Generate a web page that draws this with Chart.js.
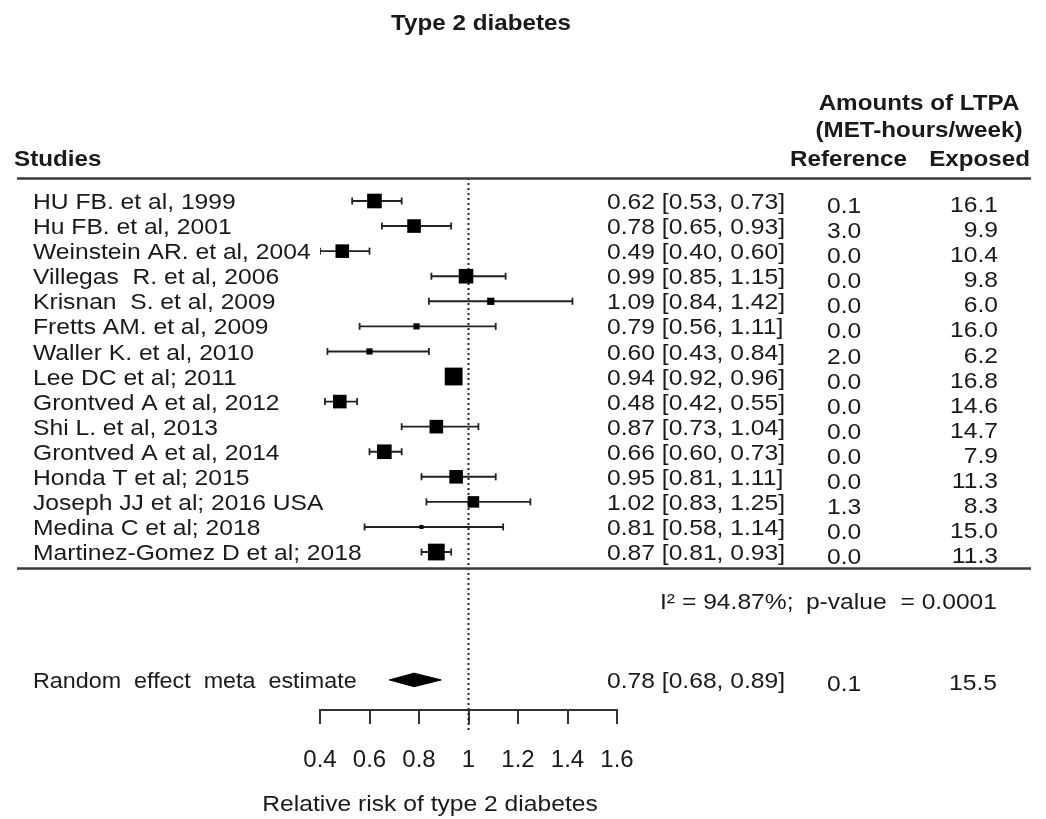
<!DOCTYPE html>
<html>
<head>
<meta charset="utf-8">
<title>Type 2 diabetes - forest plot</title>
<script src="https://cdn.jsdelivr.net/npm/chart.js@4.4.1/dist/chart.umd.min.js"></script>
<style>
  html, body { margin: 0; padding: 0; background: #fff; }
  #wrap { width: 1046px; height: 819px; }
</style>
</head>
<body>
<div id="wrap"><canvas id="forest" width="1046" height="819"></canvas></div>
<script>
/* ============================ Data ============================ */
const studies = [
  "HU FB. et al, 1999", "Hu FB. et al, 2001", "Weinstein AR. et al, 2004",
  "Villegas  R. et al, 2006", "Krisnan  S. et al, 2009", "Fretts AM. et al, 2009",
  "Waller K. et al, 2010", "Lee DC et al; 2011", "Grontved A et al, 2012",
  "Shi L. et al, 2013", "Grontved A et al, 2014", "Honda T et al; 2015",
  "Joseph JJ et al; 2016 USA", "Medina C et al; 2018", "Martinez-Gomez D et al; 2018"
];
const relRisk = [0.62, 0.78, 0.49, 0.99, 1.09, 0.79, 0.60, 0.94, 0.48, 0.87, 0.66, 0.95, 1.02, 0.81, 0.87];
const ciLow   = [0.53, 0.65, 0.40, 0.85, 0.84, 0.56, 0.43, 0.92, 0.42, 0.73, 0.60, 0.81, 0.83, 0.58, 0.81];
const ciHigh  = [0.73, 0.93, 0.60, 1.15, 1.42, 1.11, 0.84, 0.96, 0.55, 1.04, 0.73, 1.11, 1.25, 1.14, 0.93];
// study weights (%), estimated from the square sizes
const weights = [8.9, 7.7, 7.7, 8.9, 2.2, 1.6, 1.6, 13.2, 7.7, 7.7, 8.9, 7.7, 5.5, 0.7, 11.7];
const refAmount     = ["0.1", "3.0", "0.0", "0.0", "0.0", "0.0", "2.0", "0.0", "0.0", "0.0", "0.0", "0.0", "1.3", "0.0", "0.0"];
const exposedAmount = ["16.1", "9.9", "10.4", "9.8", "6.0", "16.0", "6.2", "16.8", "14.6", "14.7", "7.9", "11.3", "8.3", "15.0", "11.3"];

const metaLabel = "Random  effect  meta  estimate";
const metaRR = [0.78, 0.68, 0.89];        // estimate, low, high
const metaAmounts = ["0.1", "15.5"];       // reference, exposed
const heterogeneity = ["I\u00b2 = 94.87%;", "p-value  = 0.0001"];

const xTicks = [0.4, 0.6, 0.8, 1.0, 1.2, 1.4, 1.6];
const xTickLabels = ["0.4", "0.6", "0.8", "1", "1.2", "1.4", "1.6"];

/* ============================ Layout ============================ */
const FONT = "'Liberation Sans', Arial, sans-serif";
const INK = "#1a1a1a";
const Y_MIN = -0.917, Y_MAX = 20.30;   // row units, top of table to axis line
const META_ROW = 19.1;
const HET_ROW = 16.05;
const SEP_ROW = 14.64;
const LINE_END = 21.18;                  // dotted null line runs below the axis

function fmt(v) { return v.toFixed(2); }
function ciText(rr, lo, hi) { return fmt(rr) + " [" + fmt(lo) + ", " + fmt(hi) + "]"; }

/* ============================ Datasets ============================ */
const squares = relRisk.map((v, i) => ({ x: v, y: i }));
const squareRadius = weights.map(w => Math.sqrt(w) * 4.9 / Math.SQRT2);

const whiskers = [];
const capRadius = [];
relRisk.forEach((v, i) => {
  whiskers.push({ x: ciLow[i], y: i }, { x: ciHigh[i], y: i }, { x: v, y: null });
  capRadius.push(3.5, 3.5, 0);
});

const diamondHalf = 0.27;
const diamond = [
  { x: metaRR[1], y: META_ROW },
  { x: metaRR[0], y: META_ROW - diamondHalf },
  { x: metaRR[2], y: META_ROW },
  { x: metaRR[0], y: META_ROW + diamondHalf },
  { x: metaRR[1], y: META_ROW }
];

/* ============================ Text plugin ============================ */
function txt(ctx, s, x, y, align, font, hs) {
  ctx.save();
  ctx.font = font;
  ctx.fillStyle = INK;
  ctx.textBaseline = "middle";
  ctx.textAlign = align;
  ctx.translate(x, y);
  ctx.scale(hs, 1);
  ctx.fillText(s, 0, 0);
  ctx.restore();
}

const tablePlugin = {
  id: "forestTable",
  afterDraw(chart) {
    const ctx = chart.ctx;
    const ys = chart.scales.y;
    const reg = "22px " + FONT;
    const bold = "bold 22px " + FONT;
    const hs = 1.12;

    // headers
    txt(ctx, "Type 2 diabetes", 481, 24, "center", bold, 1.1);
    txt(ctx, "Amounts of LTPA", 919, 104, "center", bold, 1.1);
    txt(ctx, "(MET-hours/week)", 919, 131, "center", bold, 1.1);
    txt(ctx, "Studies", 14, 160, "left", bold, 1.1);
    txt(ctx, "Reference", 790, 160, "left", bold, 1.1);
    txt(ctx, "Exposed", 1030, 160, "right", bold, 1.1);

    // rules
    ctx.save();
    ctx.strokeStyle = "#3a3a3a";
    ctx.lineWidth = 2.5;
    [Y_MIN, SEP_ROW].forEach(r => {
      const y = Math.round(ys.getPixelForValue(r)) + 0.5;
      ctx.beginPath(); ctx.moveTo(17, y); ctx.lineTo(1031, y); ctx.stroke();
    });
    ctx.restore();

    // study rows
    studies.forEach((name, i) => {
      const y = ys.getPixelForValue(i);
      txt(ctx, name, 33, y + 2, "left", reg, hs);
      txt(ctx, ciText(relRisk[i], ciLow[i], ciHigh[i]), 607, y + 2, "left", reg, hs);
      txt(ctx, refAmount[i], 827, y + 6, "left", reg, hs);
      txt(ctx, exposedAmount[i], 998, y + 5, "right", reg, hs);
    });

    // heterogeneity
    const hy = ys.getPixelForValue(HET_ROW);
    txt(ctx, heterogeneity[0], 660, hy, "left", reg, hs);
    txt(ctx, heterogeneity[1], 997, hy, "right", reg, hs);

    // meta row
    const my = ys.getPixelForValue(META_ROW);
    txt(ctx, metaLabel, 33, my + 2, "left", reg, 1.06);
    txt(ctx, ciText(metaRR[0], metaRR[1], metaRR[2]), 607, my + 2, "left", reg, hs);
    txt(ctx, metaAmounts[0], 827, my + 5, "left", reg, hs);
    txt(ctx, metaAmounts[1], 997, my + 4, "right", reg, hs);

    // axis title
    txt(ctx, "Relative risk of type 2 diabetes", 430, 805, "center", reg, hs);
  }
};

/* ============================ Chart ============================ */
new Chart(document.getElementById("forest"), {
  type: "scatter",
  data: {
    datasets: [
      {
        label: "Studies",
        data: squares,
        pointStyle: "rect",
        pointRadius: squareRadius,
        backgroundColor: "#000",
        borderColor: "#000",
        borderWidth: 0,
        showLine: false
      },
      {
        label: "Meta",
        type: "line",
        data: diamond,
        borderColor: "#000",
        backgroundColor: "#000",
        borderWidth: 1,
        pointRadius: 0,
        fill: "shape",
        tension: 0
      },
      {
        label: "CI",
        type: "line",
        data: whiskers,
        borderColor: "#222",
        borderWidth: 1.9,
        pointStyle: "line",
        rotation: 90,
        pointRadius: capRadius,
        pointBorderWidth: 1.8,
        pointBorderColor: "#222",
        spanGaps: false,
        fill: false
      },
      {
        label: "Null",
        type: "line",
        data: [{ x: 1, y: Y_MIN }, { x: 1, y: LINE_END }],
        borderColor: "#222",
        borderWidth: 2,
        borderDash: [2, 3],
        pointRadius: 0,
        clip: false,
        fill: false
      }
    ]
  },
  options: {
    responsive: false,
    animation: false,
    events: [],
    layout: { padding: { left: 320, right: 429, top: 178, bottom: 0 } },
    plugins: { legend: { display: false }, tooltip: { enabled: false }, title: { display: false } },
    scales: {
      x: {
        type: "linear",
        position: "bottom",
        min: 0.4,
        max: 1.6,
        afterBuildTicks: s => { s.ticks = xTicks.map(v => ({ value: v })); },
        afterFit: s => { s.height = 109; },
        ticks: {
          autoSkip: false,
          maxRotation: 0,
          padding: 22,
          color: INK,
          font: { family: FONT, size: 24 },
          callback: (v, i) => xTickLabels[i]
        },
        grid: { drawOnChartArea: false, drawTicks: true, tickLength: 14, color: "#333", lineWidth: 2 },
        border: { display: true, color: "#333", width: 2 }
      },
      y: {
        type: "linear",
        display: false,
        reverse: true,
        min: Y_MIN,
        max: Y_MAX
      }
    }
  },
  plugins: [tablePlugin]
});
</script>
</body>
</html>
